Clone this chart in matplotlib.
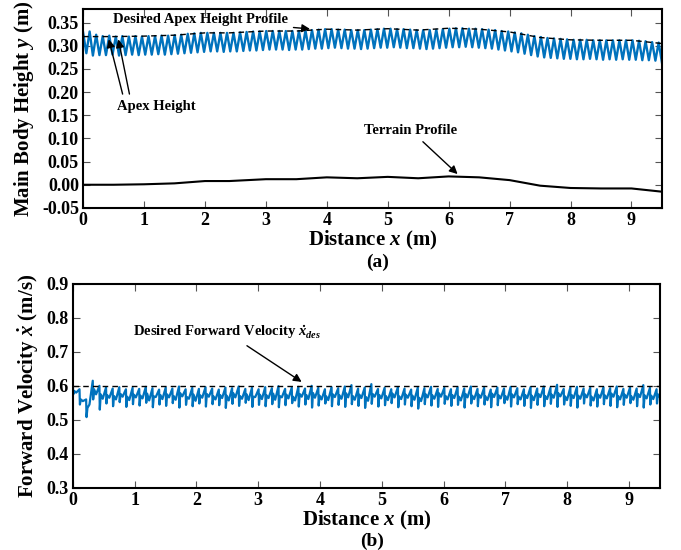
import numpy as np
import matplotlib
matplotlib.use("Agg")
import matplotlib.pyplot as plt

plt.rcParams['font.family'] = ['Liberation Serif', 'DejaVu Serif']
plt.rcParams['font.weight'] = 'bold'
plt.rcParams['axes.labelweight'] = 'bold'
plt.rcParams['mathtext.fontset'] = 'custom'
plt.rcParams['mathtext.rm'] = 'Liberation Serif:bold'
plt.rcParams['mathtext.it'] = 'Liberation Serif:italic:bold'
plt.rcParams['mathtext.bf'] = 'Liberation Serif:bold'

# terrain and desired apex profile (m)
terrain_x = [0, 0.5, 1.0, 1.5, 2.0, 2.4, 3.0, 3.5, 4.0, 4.5, 5.0, 5.5, 6.0, 6.5, 7.0, 7.5, 8.0, 8.5, 9.0, 9.5]
terrain_y = [0.000, 0.000, 0.001, 0.003, 0.008, 0.008, 0.012, 0.012, 0.016, 0.014, 0.017, 0.014, 0.018, 0.016, 0.010,
             -0.002, -0.007, -0.008, -0.008, -0.015]
desired_y = [0.320, 0.320, 0.321, 0.323, 0.328, 0.328, 0.332, 0.332, 0.336, 0.334, 0.337, 0.334, 0.338, 0.336, 0.330,
             0.318, 0.313, 0.312, 0.312, 0.305]

# body height: apex (peak) and lowest point of each hop
n_hops = 89
apex = [0.329, 0.331, 0.324, 0.321, 0.322, 0.320, 0.321, 0.320, 0.321, 0.320,
        0.321, 0.321, 0.322, 0.322, 0.323, 0.324, 0.326, 0.327, 0.328, 0.328,
        0.328, 0.328, 0.328, 0.328, 0.329, 0.330, 0.331, 0.331, 0.332, 0.332,
        0.332, 0.332, 0.332, 0.332, 0.333, 0.334, 0.335, 0.336, 0.336, 0.335,
        0.335, 0.334, 0.334, 0.334, 0.335, 0.336, 0.337, 0.337, 0.336, 0.336,
        0.335, 0.334, 0.334, 0.334, 0.335, 0.336, 0.337, 0.338, 0.338, 0.337,
        0.337, 0.336, 0.335, 0.334, 0.332, 0.331, 0.329, 0.327, 0.324, 0.321,
        0.319, 0.317, 0.316, 0.315, 0.314, 0.313, 0.313, 0.313, 0.312, 0.312,
        0.312, 0.312, 0.312, 0.312, 0.312, 0.311, 0.310, 0.308, 0.307]
bottom = [0.284, 0.279, 0.280, 0.280, 0.281, 0.279, 0.280, 0.281, 0.280, 0.281,
          0.281, 0.282, 0.281, 0.282, 0.283, 0.284, 0.285, 0.286, 0.287, 0.288,
          0.288, 0.287, 0.288, 0.288, 0.289, 0.290, 0.290, 0.291, 0.292, 0.292,
          0.292, 0.291, 0.292, 0.292, 0.293, 0.294, 0.294, 0.295, 0.296, 0.295,
          0.294, 0.294, 0.293, 0.294, 0.295, 0.296, 0.296, 0.297, 0.296, 0.295,
          0.295, 0.294, 0.293, 0.294, 0.295, 0.296, 0.297, 0.297, 0.298, 0.297,
          0.296, 0.295, 0.294, 0.292, 0.290, 0.288, 0.286, 0.283, 0.280, 0.277,
          0.275, 0.274, 0.273, 0.272, 0.272, 0.271, 0.271, 0.272, 0.271, 0.270,
          0.271, 0.270, 0.271, 0.270, 0.270, 0.269, 0.269, 0.268, 0.264]

# forward velocity per hop (m/s): peak, dip after touchdown, plateau, mid-hop wiggle
vel_peak = [0.600, 0.590, 0.560, 0.615, 0.600, 0.595, 0.592, 0.596, 0.590, 0.594,
            0.591, 0.597, 0.593, 0.589, 0.595, 0.592, 0.598, 0.590, 0.594, 0.591,
            0.596, 0.592, 0.589, 0.595, 0.593, 0.598, 0.591, 0.594, 0.590, 0.596,
            0.593, 0.599, 0.591, 0.595, 0.597, 0.592, 0.600, 0.594, 0.590, 0.596,
            0.593, 0.598, 0.602, 0.592, 0.595, 0.605, 0.591, 0.594, 0.590, 0.596,
            0.592, 0.589, 0.595, 0.593, 0.597, 0.591, 0.594, 0.590, 0.596, 0.592,
            0.598, 0.591, 0.594, 0.589, 0.595, 0.592, 0.597, 0.593, 0.590, 0.596,
            0.592, 0.598, 0.594, 0.603, 0.591, 0.595, 0.597, 0.592, 0.594, 0.590,
            0.596, 0.593, 0.598, 0.591, 0.595, 0.592, 0.602, 0.594, 0.590]
vel_dip = [0.575, 0.545, 0.508, 0.560, 0.530, 0.548, 0.540, 0.552, 0.538, 0.546,
           0.542, 0.550, 0.537, 0.545, 0.541, 0.549, 0.536, 0.544, 0.540, 0.548,
           0.539, 0.546, 0.543, 0.535, 0.547, 0.541, 0.550, 0.538, 0.544, 0.540,
           0.546, 0.537, 0.543, 0.549, 0.539, 0.545, 0.536, 0.542, 0.548, 0.540,
           0.544, 0.538, 0.546, 0.541, 0.535, 0.547, 0.539, 0.543, 0.549, 0.537,
           0.545, 0.540, 0.533, 0.546, 0.542, 0.538, 0.547, 0.541, 0.544, 0.536,
           0.548, 0.540, 0.545, 0.537, 0.543, 0.549, 0.539, 0.546, 0.541, 0.535,
           0.544, 0.540, 0.547, 0.538, 0.545, 0.541, 0.536, 0.548, 0.542, 0.539,
           0.546, 0.541, 0.537, 0.544, 0.549, 0.540, 0.536, 0.545, 0.548]
vel_plateau = [0.585, 0.560, 0.535, 0.590, 0.575, 0.572, 0.570, 0.576, 0.568, 0.574,
               0.571, 0.577, 0.569, 0.573, 0.575, 0.570, 0.578, 0.567, 0.574, 0.572,
               0.576, 0.569, 0.573, 0.571, 0.578, 0.570, 0.575, 0.568, 0.574, 0.572,
               0.577, 0.570, 0.574, 0.568, 0.576, 0.573, 0.579, 0.571, 0.569, 0.575,
               0.572, 0.578, 0.570, 0.574, 0.567, 0.576, 0.573, 0.570, 0.577, 0.569,
               0.574, 0.571, 0.565, 0.575, 0.572, 0.578, 0.570, 0.573, 0.568, 0.576,
               0.571, 0.574, 0.569, 0.577, 0.572, 0.570, 0.575, 0.568, 0.573, 0.571,
               0.576, 0.570, 0.574, 0.578, 0.569, 0.573, 0.571, 0.575, 0.568, 0.574,
               0.572, 0.577, 0.570, 0.574, 0.569, 0.576, 0.572, 0.571, 0.575]
vel_mid = [0.580, 0.555, 0.545, 0.575, 0.562, 0.565, 0.560, 0.568, 0.558, 0.566,
           0.563, 0.557, 0.567, 0.561, 0.566, 0.559, 0.569, 0.562, 0.556, 0.565,
           0.568, 0.560, 0.564, 0.557, 0.566, 0.562, 0.558, 0.567, 0.561, 0.564,
           0.559, 0.566, 0.563, 0.557, 0.568, 0.561, 0.565, 0.560, 0.558, 0.567,
           0.562, 0.566, 0.559, 0.564, 0.556, 0.568, 0.563, 0.558, 0.566, 0.561,
           0.565, 0.559, 0.555, 0.566, 0.562, 0.568, 0.560, 0.564, 0.557, 0.566,
           0.561, 0.565, 0.558, 0.567, 0.563, 0.559, 0.566, 0.560, 0.564, 0.558,
           0.567, 0.561, 0.565, 0.569, 0.558, 0.564, 0.562, 0.566, 0.557, 0.565,
           0.563, 0.568, 0.560, 0.565, 0.559, 0.567, 0.563, 0.561, 0.566]
v_des = 0.6

blue = '#0072BD'
x_end = 9.5
T = x_end / (n_hops - 0.5)
hop_x = np.arange(n_hops) * T

# body height trace: apex then lowest point each hop
hx = np.column_stack([hop_x, hop_x + T / 2]).ravel()
hy = np.column_stack([apex, bottom]).ravel()

# velocity trace
vx = np.column_stack([hop_x, hop_x + 0.06 * T, hop_x + 0.2 * T, hop_x + 0.5 * T]).ravel()
vy = np.column_stack([vel_peak, vel_dip, vel_plateau, vel_mid]).ravel()

fig = plt.figure(figsize=(6.81, 5.5), dpi=100)
ax1 = fig.add_axes([0.122, 0.622, 0.850, 0.362])
ax2 = fig.add_axes([0.107, 0.113, 0.862, 0.371])

# (a) body height
ax1.plot(hx, hy, color=blue, lw=1.7)
ax1.plot(terrain_x, desired_y, 'k--', lw=1.0, dashes=(4, 3))
ax1.plot(terrain_x, terrain_y, 'k-', lw=1.5)
ax1.set_xlim(0, 9.5)
ax1.set_ylim(-0.05, 0.38)
ax1.set_yticks(np.arange(-0.05, 0.351, 0.05))
ax1.set_yticklabels(['-0.05', '0.00', '0.05', '0.10', '0.15', '0.20', '0.25', '0.30', '0.35'])
ax1.set_xticks(range(10))
ax1.set_ylabel('Main Body Height $y$ (m)', fontsize=15, labelpad=4)
ax1.set_xlabel('Distance $x$ (m)', fontsize=15, labelpad=0)
fig.text(0.555, 0.523, '(a)', ha='center', va='center', fontsize=14)

arrow = dict(arrowstyle='-|>', color='k', lw=1.0, mutation_scale=12)
ax1.annotate('Desired Apex Height Profile', xy=(3.77, 0.336), xytext=(0.49, 0.357),
             fontsize=10.5, va='center', arrowprops=arrow)
ax1.annotate('', xy=(0.41, 0.320), xytext=(0.66, 0.19), arrowprops=arrow)
ax1.annotate('', xy=(0.57, 0.320), xytext=(0.77, 0.19), arrowprops=arrow)
ax1.text(1.2, 0.170, 'Apex Height', fontsize=10.5, ha='center', va='center')
ax1.annotate('Terrain Profile', xy=(6.18, 0.019), xytext=(5.38, 0.117),
             fontsize=10.5, ha='center', va='center', arrowprops=arrow)

# (b) forward velocity
ax2.plot(vx, vy, color=blue, lw=1.6)
ax2.axhline(v_des, color='k', ls='--', lw=1.0, dashes=(4, 3))
ax2.set_xlim(0, 9.5)
ax2.set_ylim(0.3, 0.9)
ax2.set_xticks(range(10))
ax2.set_yticks(np.arange(0.3, 0.91, 0.1))
ax2.set_ylabel(r'Forward Velocity $\dot{x}$ (m/s)', fontsize=15, labelpad=4)
ax2.set_xlabel('Distance $x$ (m)', fontsize=15, labelpad=0)
fig.text(0.547, 0.016, '(b)', ha='center', va='center', fontsize=14)
ax2.annotate(r'Desired Forward Velocity $\dot{x}_{des}$', xy=(3.74, 0.607), xytext=(0.97, 0.757),
             fontsize=10.5, va='center', arrowprops=arrow)

for ax in (ax1, ax2):
    ax.tick_params(direction='in', top=True, right=True, length=5, width=0.8,
                   color='#555555', labelsize=13, pad=3)
    for s in ax.spines.values():
        s.set_linewidth(1.5)
    for lab in ax.get_xticklabels() + ax.get_yticklabels():
        lab.set_fontweight('bold')

fig.savefig('out.png', dpi=100)
